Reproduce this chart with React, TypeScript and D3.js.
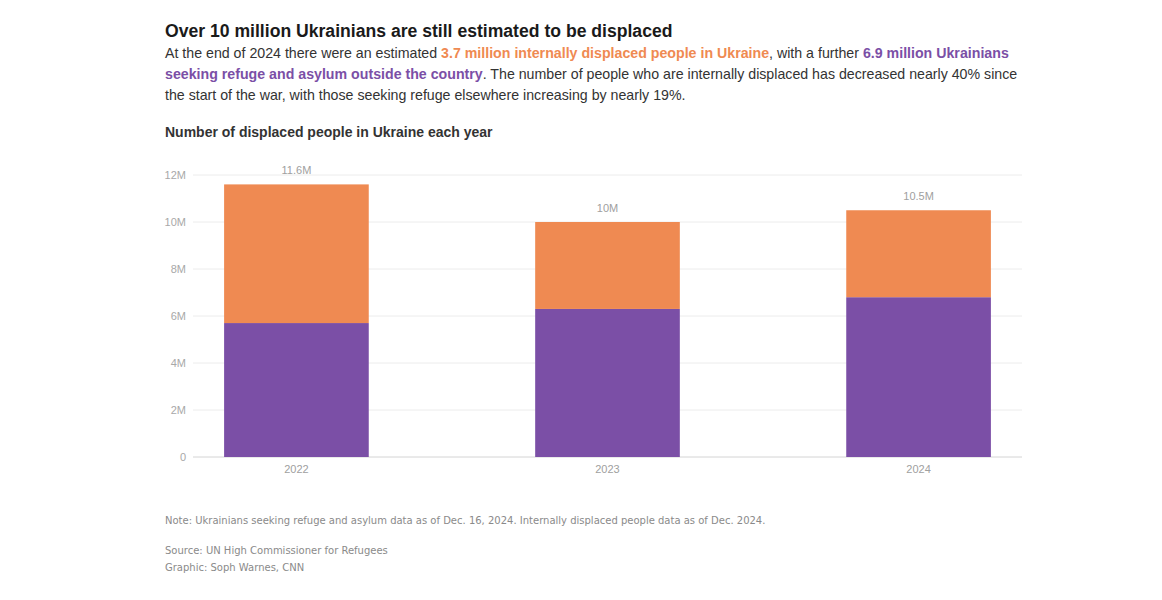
import React from 'react';
import * as d3 from 'd3';

const years = ['2022', '2023', '2024'];
const refugees = [5.7, 6.3, 6.8];
const internallyDisplaced = [5.9, 3.7, 3.7];
const totalLabels = ['11.6M', '10M', '10.5M'];
const yTicks = [0, 2, 4, 6, 8, 10, 12];

const ORANGE = '#ef8a52';
const PURPLE = '#7b4fa6';
const FONT = '"Liberation Sans", Arial, Helvetica, sans-serif';
const SMALL_FONT = '"DejaVu Sans", sans-serif';

const W = 1162;
const H = 600;

export default function App() {
  const rows = years.map((y, i) => ({ year: y, refugees: refugees[i], idp: internallyDisplaced[i] }));
  const stack = d3.stack<any>().keys(['refugees', 'idp'])(rows);

  const x = d3.scaleBand()
    .domain(years)
    .range([193, 1022])
    .paddingInner(0.535)
    .paddingOuter(0.1);

  const y = d3.scaleLinear()
    .domain([0, 12])
    .range([457, 175]);

  const colors: Record<string, string> = { refugees: PURPLE, idp: ORANGE };

  return (
    <svg width={W} height={H} style={{ position: 'absolute', left: 0, top: 0, background: '#fff' }} fontFamily={FONT}>
      {/* heading */}
      <text x={165} y={37} fontSize={17.6} fontWeight={700} fill="#1a1a1a">
        Over 10 million Ukrainians are still estimated to be displaced
      </text>
      <g fontSize={14.2} fill="#333">
        <text x={165} y={58}>
          At the end of 2024 there were an estimated{' '}
          <tspan fill={ORANGE} fontWeight={700}>3.7 million internally displaced people in Ukraine</tspan>
          , with a further{' '}
          <tspan fill={PURPLE} fontWeight={700}>6.9 million Ukrainians</tspan>
        </text>
        <text x={165} y={79}>
          <tspan fill={PURPLE} fontWeight={700}>seeking refuge and asylum outside the country</tspan>
          . The number of people who are internally displaced has decreased nearly 40% since
        </text>
        <text x={165} y={100}>
          the start of the war, with those seeking refuge elsewhere increasing by nearly 19%.
        </text>
      </g>

      <text x={165} y={137} fontSize={14} fontWeight={700} fill="#333">
        Number of displaced people in Ukraine each year
      </text>

      {/* grid + y axis */}
      {yTicks.map(t => (
        <g key={t}>
          <line x1={193} x2={1022} y1={y(t)} y2={y(t)} stroke={t === 0 ? '#d4d4d4' : '#ececec'} strokeWidth={1} />
          <text x={186} y={y(t)} dy="0.35em" textAnchor="end" fontSize={11} fill="#a8a8a8">
            {t === 0 ? '0' : `${t}M`}
          </text>
        </g>
      ))}

      {/* bars */}
      {stack.map(layer => (
        <g key={layer.key} fill={colors[layer.key]}>
          {layer.map((d, i) => (
            <rect
              key={i}
              x={x(years[i])}
              y={y(d[1])}
              width={x.bandwidth()}
              height={y(d[0]) - y(d[1])}
            />
          ))}
        </g>
      ))}

      {/* totals */}
      {years.map((yr, i) => (
        <text
          key={yr}
          x={(x(yr) ?? 0) + x.bandwidth() / 2}
          y={y(refugees[i] + internallyDisplaced[i]) - 10}
          textAnchor="middle"
          fontSize={11}
          fill="#a0a0a0"
        >
          {totalLabels[i]}
        </text>
      ))}

      {/* x labels */}
      {years.map(yr => (
        <text key={yr} x={(x(yr) ?? 0) + x.bandwidth() / 2} y={473} textAnchor="middle" fontSize={11} fill="#a0a0a0">
          {yr}
        </text>
      ))}

      {/* notes */}
      <g fontSize={10} fill="#8a8a8a" fontFamily={SMALL_FONT}>
        <text x={165} y={524}>
          Note: Ukrainians seeking refuge and asylum data as of Dec. 16, 2024. Internally displaced people data as of Dec. 2024.
        </text>
        <text x={165} y={554}>Source: UN High Commissioner for Refugees</text>
        <text x={165} y={571}>Graphic: Soph Warnes, CNN</text>
      </g>
    </svg>
  );
}
